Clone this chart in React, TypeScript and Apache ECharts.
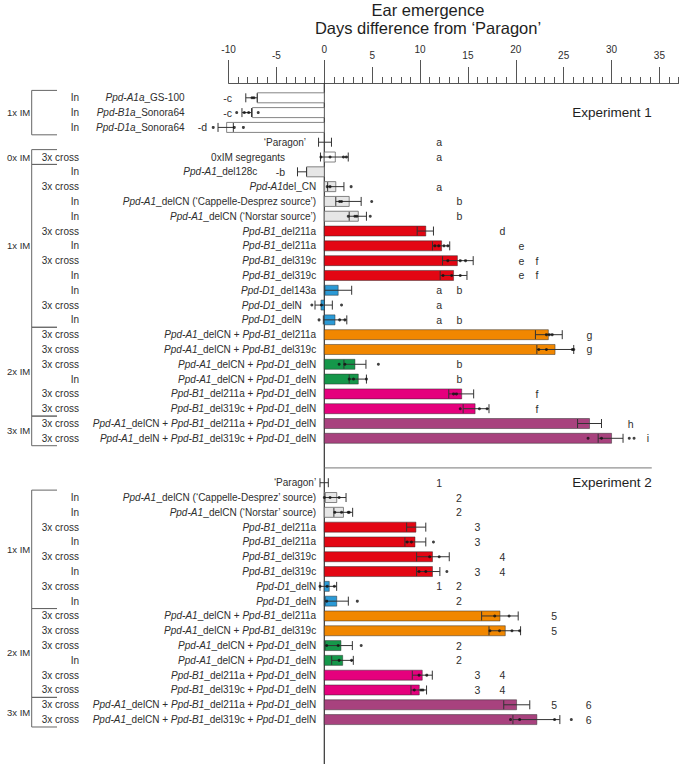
import React, { useEffect, useRef } from 'react';
import * as echarts from 'echarts';

const FONT = 'Arial, "Liberation Sans", Helvetica, sans-serif';
const TEXT = '#2e2e2e';

// ---- axis ----
const axisMin = -10;
const axisMax = 37;
const midTickMax = 35;
const majorTickMax = 30;
const titleLines = ['Ear emergence', 'Days difference from ‘Paragon’'];

// ---- Experiment 1 ----
const exp1Genotypes = [
  '*Ppd-A1a*_GS-100', '*Ppd-B1a*_Sonora64', '*Ppd-D1a*_Sonora64', '‘Paragon’', '0xIM segregants',
  '*Ppd-A1*_del128c', '*Ppd-A1*del_CN', '*Ppd-A1*_delCN (‘Cappelle-Desprez source’)', '*Ppd-A1*_delCN (‘Norstar source’)',
  '*Ppd-B1*_del211a', '*Ppd-B1*_del211a', '*Ppd-B1*_del319c', '*Ppd-B1*_del319c', '*Ppd-D1*_del143a',
  '*Ppd-D1*_delN', '*Ppd-D1*_delN', '*Ppd-A1*_delCN + *Ppd-B1*_del211a', '*Ppd-A1*_delCN + *Ppd-B1*_del319c',
  '*Ppd-A1*_delCN + *Ppd-D1*_delN', '*Ppd-A1*_delCN + *Ppd-D1*_delN', '*Ppd-B1*_del211a + *Ppd-D1*_delN',
  '*Ppd-B1*_del319c + *Ppd-D1*_delN', '*Ppd-A1*_delCN + *Ppd-B1*_del211a + *Ppd-D1*_delN',
  '*Ppd-A1*_delN + *Ppd-B1*_del319c + *Ppd-D1*_delN',
];
const exp1Treatments = ['In', 'In', 'In', '', '3x cross', 'In', '3x cross', 'In', 'In', '3x cross', 'In', '3x cross', 'In', 'In', '3x cross', 'In', '3x cross', '3x cross', '3x cross', 'In', '3x cross', '3x cross', '3x cross', '3x cross'];
const exp1Classes = ['ins', 'ins', 'ins', 'wt', 'seg', 'A1', 'A1', 'A1', 'A1', 'B1', 'B1', 'B1', 'B1', 'D1', 'D1', 'D1', 'A1B1', 'A1B1', 'A1D1', 'A1D1', 'B1D1', 'B1D1', 'ABD', 'ABD'];
const exp1Means = [-7.0, -7.5, -10.2, 0, 1.15, -1.85, 1.2, 2.6, 3.55, 10.6, 12.25, 13.9, 13.5, 1.45, -0.35, 1.12, 23.4, 24.1, 3.2, 3.55, 14.35, 15.75, 27.7, 30.0];
const exp1Lower = [-8.2, -8.6, -11.1, -0.6, -0.4, -2.8, 0.35, 1.2, 2.6, 9.7, 11.3, 12.35, 12.1, 0.05, -0.97, -0.1, 22.05, 22.2, 2.05, 2.6, 13.0, 14.5, 26.45, 28.6];
const exp1Upper = [-7.0, -7.6, -9.5, 0.75, 2.5, -1.85, 2.05, 3.85, 4.4, 11.4, 13.1, 15.55, 14.9, 2.86, 0.84, 2.35, 24.85, 26.05, 4.35, 4.4, 15.6, 17.2, 28.95, 31.2];
const exp1Points = [
  [-7.55, -7.35], [-9.15, -8.35, -7.9, -6.9], [-11.6, -9.4, -8.45], [], [-0.35, 0.6, 2.0, 2.3], [],
  [0.3, 0.6, 2.8], [1.6, 1.8, 4.95], [2.5, 3.2, 3.4, 4.8], [], [11.55, 11.95, 12.5, 12.9], [12.9, 14.2, 14.75],
  [12.4, 13.3, 14.2], [], [-1.3, -0.3, 1.8], [-0.55, 1.6, 2.15], [23.2, 23.5, 23.8], [22.4, 23.2, 25.9, 26.05],
  [1.55, 2.15, 5.65], [2.6, 3.05, 4.4], [13.5, 13.8], [14.2, 16.2, 17.0], [], [27.55, 28.95, 31.85, 32.35],
];
const exp1Letters = ['-c', '-c', '-d', 'a', 'a', '-b', 'a', 'b', 'b', 'd', 'e', 'e f', 'e f', 'a b', 'a', 'a b', 'g', 'g', 'b', 'b', 'f', 'f', 'h', 'i'];
const exp1Groups = [
  { label: '1x IM', first: 0, last: 2 },
  { label: '0x IM', first: 4, last: 4 },
  { label: '1x IM', first: 5, last: 15 },
  { label: '2x IM', first: 16, last: 21 },
  { label: '3x IM', first: 22, last: 23 },
];

// ---- Experiment 2 ----
const exp2Genotypes = [
  '‘Paragon’', '*Ppd-A1*_delCN (‘Cappelle-Desprez’ source)', '*Ppd-A1*_delCN (‘Norstar’ source)',
  '*Ppd-B1*_del211a', '*Ppd-B1*_del211a', '*Ppd-B1*_del319c', '*Ppd-B1*_del319c', '*Ppd-D1*_delN', '*Ppd-D1*_delN',
  '*Ppd-A1*_delCN + *Ppd-B1*_del211a', '*Ppd-A1*_delCN + *Ppd-B1*_del319c', '*Ppd-A1*_delCN + *Ppd-D1*_delN',
  '*Ppd-A1*_delCN + *Ppd-D1*_delN', '*Ppd-B1*_del211a + *Ppd-D1*_delN', '*Ppd-B1*_del319c + *Ppd-D1*_delN',
  '*Ppd-A1*_delCN + *Ppd-B1*_del211a + *Ppd-D1*_delN', '*Ppd-A1*_delCN + *Ppd-B1*_del319c + *Ppd-D1*_delN',
];
const exp2Treatments = ['', 'In', 'In', '3x cross', 'In', '3x cross', 'In', '3x cross', 'In', '3x cross', '3x cross', '3x cross', 'In', '3x cross', '3x cross', '3x cross', '3x cross'];
const exp2Classes = ['wt', 'A1', 'A1', 'B1', 'B1', 'B1', 'B1', 'D1', 'D1', 'A1B1', 'A1B1', 'A1D1', 'A1D1', 'B1D1', 'B1D1', 'ABD', 'ABD'];
const exp2Means = [0, 1.3, 2.0, 9.57, 9.47, 11.3, 11.3, 0.52, 1.3, 18.35, 18.9, 1.74, 1.92, 10.23, 9.92, 20.08, 22.2];
const exp2Lower = [-0.45, 0.07, 1.0, 8.6, 8.42, 9.64, 9.64, -0.45, 0.07, 16.43, 17.2, 0.07, 0.77, 9.19, 9.05, 18.74, 19.7];
const exp2Upper = [0.42, 2.27, 2.96, 10.6, 10.6, 13.05, 12.07, 1.29, 2.51, 20.25, 20.5, 2.93, 3.03, 11.28, 10.68, 21.46, 24.6];
const exp2Points = [
  [], [0.0, 0.6, 1.55], [1.1, 1.8, 2.5, 2.6], [], [8.65, 9.1, 11.4], [11.0, 12.0], [9.9, 10.6, 12.8],
  [-0.45, 0.3, 1.05], [0.25, 3.45], [17.8, 19.3], [17.3, 18.3, 19.6, 20.4], [0.25, 1.45, 3.85], [1.55, 2.85],
  [9.9, 10.7], [9.4, 10.1, 10.3], [], [19.45, 20.4, 24.05, 25.8],
];
const exp2Letters = ['1', '2', '2', '3', '3', '4', '3 4', '1 2', '2', '5', '5', '2', '2', '3 4', '3 4', '5 6', '6'];
const exp2Groups = [
  { label: '1x IM', first: 1, last: 8 },
  { label: '2x IM', first: 9, last: 14 },
  { label: '3x IM', first: 15, last: 16 },
];
const experimentTitles = ['Experiment 1', 'Experiment 2'];

// ---- styles / layout ----
const classColors: Record<string, string> = {
  ins: '#ffffff', wt: '#ffffff', seg: '#ffffff', A1: '#e6e6e6', B1: '#e30613', D1: '#2b9ad6',
  A1B1: '#f18700', A1D1: '#15974a', B1D1: '#e5007d', ABD: '#a8427e',
};
const letterColumns: Record<string, number> = {
  a: 12, b: 14.1, d: 18.6, e: 20.6, f: 22.2, g: 27.7, h: 32, i: 33.8,
  '1': 12, '2': 14.05, '3': 16, '4': 18.6, '5': 24, '6': 27.6,
  '-b': -4.1, '-c': -9.63, '-d': -12.25,
};
const GAP_ROWS = 2;
const EXP2_START = exp1Genotypes.length + GAP_ROWS;
const DEFAULT_LABEL_END = -0.85;
const labelEndOverrides: Record<number, number> = { 0: -14.6, 1: -14.6, 2: -14.6, 3: -1.9, 4: -4.1, 5: -7.0, 14: -2.35, 15: -2.35 };
const EXP_LABEL_X = 34.2;
const SEPARATOR_END = 34.2;
const Y_MIN = -1;
const Y_MAX = 45;
const PX_PER_DAY = 9.575;
const GRID_LEFT = 324.3 + axisMin * PX_PER_DAY;
const GRID_TOP = 83;
const TREATMENT_X = 79;
const BRACKET_X = 31.7;
const BRACKET_END = 57;
const GROUP_LABEL_X = 7;
const BAR_H = 10;
const CAP_H = 9;

function toRich(s: string) {
  return s.split('*').map((p, k) => (p ? (k % 2 ? `{i|${p}}` : `{n|${p}}`) : '')).join('');
}

const RICH = {
  i: { fontStyle: 'italic', fontSize: 10, fontFamily: FONT, fill: TEXT, color: TEXT },
  n: { fontSize: 10, fontFamily: FONT, fill: TEXT, color: TEXT },
};

type Row = {
  row: number; genotype: string; treatment: string; cls: string; mean: number; lo: number; hi: number;
  points: number[]; letters: string; labelEnd: number;
};

function buildRows(): Row[] {
  const out: Row[] = [];
  exp1Genotypes.forEach((g, i) => out.push({
    row: i, genotype: g, treatment: exp1Treatments[i], cls: exp1Classes[i], mean: exp1Means[i],
    lo: exp1Lower[i], hi: exp1Upper[i], points: exp1Points[i], letters: exp1Letters[i],
    labelEnd: labelEndOverrides[i] ?? DEFAULT_LABEL_END,
  }));
  exp2Genotypes.forEach((g, i) => out.push({
    row: EXP2_START + i, genotype: g, treatment: exp2Treatments[i], cls: exp2Classes[i], mean: exp2Means[i],
    lo: exp2Lower[i], hi: exp2Upper[i], points: exp2Points[i], letters: exp2Letters[i],
    labelEnd: DEFAULT_LABEL_END,
  }));
  return out;
}

export default function App() {
  const ref = useRef<HTMLDivElement>(null);
  useEffect(() => {
    if (!ref.current) return;
    const chart = echarts.init(ref.current, undefined, { renderer: 'svg' });
    const rows = buildRows();
    const groups = [
      ...exp1Groups.map((g) => ({ ...g })),
      ...exp2Groups.map((g) => ({ label: g.label, first: g.first + EXP2_START, last: g.last + EXP2_START })),
    ];
    const letterItems: { x: number; row: number; text: string; right: boolean }[] = [];
    rows.forEach((r) => {
      r.letters.split(' ').filter(Boolean).forEach((t) => {
        letterItems.push({ x: letterColumns[t], row: r.row, text: t, right: t.startsWith('-') });
      });
    });
    const treatmentRows = rows.filter((r) => r.treatment);
    const pointData: number[][] = [];
    rows.forEach((r) => r.points.forEach((p) => pointData.push([p, r.row])));
    const expRows = [1, EXP2_START];

    const textStyle = (extra: any) => ({ fontSize: 10, fontFamily: FONT, fill: TEXT, ...extra });

    const option: any = {
      animation: false,
      graphic: titleLines.map((t, k) => ({
        type: 'text', x: 428, y: 9.5 + k * 18,
        style: {
          text: t, fontSize: 16.5, fontFamily: FONT, fill: '#1e1e1e', align: 'center', verticalAlign: 'middle',
        },
      })),
      grid: [
        { left: GRID_LEFT, top: GRID_TOP, width: (axisMax - axisMin) * PX_PER_DAY, bottom: 0 },
        { left: GRID_LEFT, top: GRID_TOP, width: (midTickMax - axisMin) * PX_PER_DAY, bottom: 0 },
        { left: GRID_LEFT, top: GRID_TOP, width: (majorTickMax - axisMin) * PX_PER_DAY, bottom: 0 },
      ],
      xAxis: [
        {
          gridIndex: 0, type: 'value', position: 'top', min: axisMin, max: axisMax, interval: 1,
          axisLine: { show: true, onZero: false, lineStyle: { color: '#555', width: 1 } },
          axisTick: { show: true, length: 6, lineStyle: { color: '#555', width: 1 } },
          axisLabel: { show: false }, splitLine: { show: false },
        },
        {
          gridIndex: 1, type: 'value', position: 'top', min: axisMin, max: midTickMax, interval: 5,
          axisLine: { show: false, onZero: false },
          axisTick: { show: true, length: 16, lineStyle: { color: '#555', width: 1 } },
          axisLabel: {
            show: true, margin: 23, fontSize: 10, fontFamily: FONT, color: TEXT,
            formatter: (v: number) => (v % 10 === 0 ? '' : String(v)),
          },
          splitLine: { show: false },
        },
        {
          gridIndex: 2, type: 'value', position: 'top', min: axisMin, max: majorTickMax, interval: 10,
          axisLine: { show: false, onZero: false },
          axisTick: { show: true, length: 23, lineStyle: { color: '#555', width: 1 } },
          axisLabel: { show: true, margin: 29, fontSize: 10, fontFamily: FONT, color: TEXT },
          splitLine: { show: false },
        },
      ],
      yAxis: [0, 1, 2].map((gi) => ({
        gridIndex: gi, type: 'value', inverse: true, min: Y_MIN, max: Y_MAX, show: false,
      })),
      series: [
        { type: 'scatter', xAxisIndex: 1, yAxisIndex: 1, data: [], silent: true },
        { type: 'scatter', xAxisIndex: 2, yAxisIndex: 2, data: [], silent: true },
        {
          type: 'line', xAxisIndex: 0, yAxisIndex: 0, data: [[0, Y_MIN], [0, Y_MAX]], symbol: 'none',
          lineStyle: { color: '#333', width: 1.2 }, silent: true, z: 1,
        },
        {
          type: 'line', xAxisIndex: 0, yAxisIndex: 0,
          data: [[0, exp1Genotypes.length + 1], [SEPARATOR_END, exp1Genotypes.length + 1]],
          symbol: 'none', lineStyle: { color: '#777', width: 1 }, silent: true, z: 1,
        },
        {
          type: 'custom', name: 'bars', clip: false, z: 3,
          data: rows.map((r) => [r.mean, r.row]), encode: { x: 0, y: 1 },
          renderItem: (params: any, api: any) => {
            const r = rows[params.dataIndex];
            if (r.mean === 0) return { type: 'group', children: [] };
            const p0 = api.coord([0, r.row]);
            const p1 = api.coord([r.mean, r.row]);
            const light = r.cls === 'ins' || r.cls === 'seg' || r.cls === 'A1' || r.cls === 'wt';
            return {
              type: 'rect',
              shape: { x: Math.min(p0[0], p1[0]), y: p0[1] - BAR_H / 2, width: Math.abs(p1[0] - p0[0]), height: BAR_H },
              style: { fill: classColors[r.cls], stroke: light ? '#666' : 'rgba(40,40,40,0.6)', lineWidth: 0.8 },
            };
          },
        },
        {
          type: 'custom', name: 'errors', clip: false, z: 4,
          data: rows.map((r) => [r.lo, r.hi, r.row]), encode: { x: [0, 1], y: 2 },
          renderItem: (params: any, api: any) => {
            const r = rows[params.dataIndex];
            const a = api.coord([r.lo, r.row]);
            const b = api.coord([r.hi, r.row]);
            const st = { stroke: '#333', lineWidth: 1 };
            return {
              type: 'group',
              children: [
                { type: 'line', shape: { x1: a[0], y1: a[1], x2: b[0], y2: b[1] }, style: st },
                { type: 'line', shape: { x1: a[0], y1: a[1] - CAP_H / 2, x2: a[0], y2: a[1] + CAP_H / 2 }, style: st },
                { type: 'line', shape: { x1: b[0], y1: b[1] - CAP_H / 2, x2: b[0], y2: b[1] + CAP_H / 2 }, style: st },
              ],
            };
          },
        },
        {
          type: 'scatter', name: 'points', data: pointData, symbol: 'circle', symbolSize: 3,
          itemStyle: { color: '#111' }, silent: true, z: 5, clip: false,
        },
        {
          type: 'custom', name: 'letters', clip: false, z: 5,
          data: letterItems.map((l) => [l.x, l.row]), encode: { x: 0, y: 1 },
          renderItem: (params: any, api: any) => {
            const l = letterItems[params.dataIndex];
            const p = api.coord([l.x, l.row]);
            return {
              type: 'text', x: p[0], y: p[1],
              style: textStyle({ text: l.text, fontSize: 10.5, align: l.right ? 'right' : 'center', verticalAlign: 'middle' }),
            };
          },
        },
        {
          type: 'custom', name: 'genotypes', clip: false, z: 5,
          data: rows.map((r) => [r.labelEnd, r.row]), encode: { x: 0, y: 1 },
          renderItem: (params: any, api: any) => {
            const r = rows[params.dataIndex];
            const p = api.coord([r.labelEnd, r.row]);
            return {
              type: 'text', x: p[0], y: p[1],
              style: textStyle({ text: toRich(r.genotype), rich: RICH, align: 'right', verticalAlign: 'middle' }),
            };
          },
        },
        {
          type: 'custom', name: 'treatments', clip: false, z: 5,
          data: treatmentRows.map((r) => [0, r.row]), encode: { x: 0, y: 1 },
          renderItem: (params: any, api: any) => {
            const r = treatmentRows[params.dataIndex];
            const p = api.coord([0, r.row]);
            return {
              type: 'text', x: TREATMENT_X, y: p[1],
              style: textStyle({ text: r.treatment, align: 'right', verticalAlign: 'middle' }),
            };
          },
        },
        {
          type: 'custom', name: 'groups', clip: false, z: 5,
          data: groups.map((g) => [0, g.first, g.last]), encode: { x: 0, y: [1, 2] },
          renderItem: (params: any, api: any) => {
            const g = groups[params.dataIndex];
            const yTop = api.coord([0, g.first - 0.5])[1];
            const yBot = api.coord([0, g.last + 0.5])[1];
            const yMid = api.coord([0, (g.first + g.last) / 2])[1];
            const st = { stroke: '#666', lineWidth: 1 };
            return {
              type: 'group',
              children: [
                { type: 'line', shape: { x1: BRACKET_X, y1: yTop, x2: BRACKET_X, y2: yBot }, style: st },
                { type: 'line', shape: { x1: BRACKET_X, y1: yTop, x2: BRACKET_END, y2: yTop }, style: st },
                { type: 'line', shape: { x1: BRACKET_X, y1: yBot, x2: BRACKET_END, y2: yBot }, style: st },
                {
                  type: 'text', x: GROUP_LABEL_X, y: yMid,
                  style: textStyle({ text: g.label, fontSize: 9.5, align: 'left', verticalAlign: 'middle' }),
                },
              ],
            };
          },
        },
        {
          type: 'custom', name: 'experiments', clip: false, z: 5,
          data: expRows.map((r) => [EXP_LABEL_X, r]), encode: { x: 0, y: 1 },
          renderItem: (params: any, api: any) => {
            const p = api.coord([EXP_LABEL_X, expRows[params.dataIndex]]);
            return {
              type: 'text', x: p[0], y: p[1],
              style: textStyle({ text: experimentTitles[params.dataIndex], fontSize: 13.5, align: 'right', verticalAlign: 'middle', fill: '#1e1e1e' }),
            };
          },
        },
      ],
    };
    chart.setOption(option);
    return () => chart.dispose();
  }, []);
  return (
    <div
      ref={ref}
      style={{ position: 'fixed', left: 0, top: 0, width: 683, height: 764, background: '#fff' }}
    />
  );
}
